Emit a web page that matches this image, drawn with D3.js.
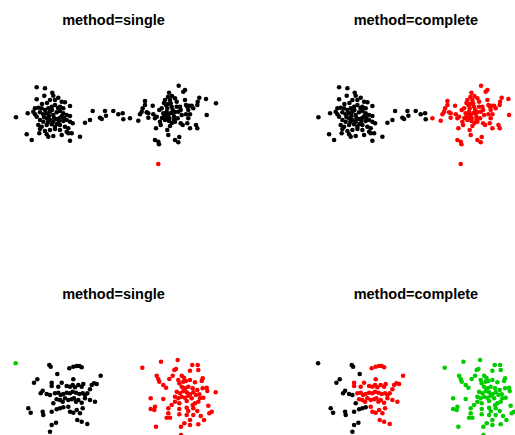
<!DOCTYPE html>
<html><head><meta charset="utf-8">
<script src="https://cdn.jsdelivr.net/npm/d3@7"></script>
<style>html,body{margin:0;padding:0;background:#fff;overflow:hidden}</style>
</head><body>
<script>
// ---- data (units) ----
const titles = ["method=single", "method=complete", "method=single", "method=complete"];
const palette = ["#000000", "#FF0000", "#00CD00"];

// upper data set
const topLeftGroup = [
[36.7,87.3],[45,88.3],[52.3,92.7],[53.3,95.7],[44.3,95.7],[36.7,99.3],[50,100],[55,100],[58.3,97.7],[61.7,101.7],[65,102.3],[70,106],[16,117.3],[27.7,113.3],[33.3,111.7],[35,108.3],[38.3,107.7],[41.7,108.3],[45,110],[48.3,108.3],[51.7,106.7],[55,105],[60,106.7],[63.3,108.3],[35,114.3],[36.7,116.7],[40,112.3],[43.3,114.3],[46.7,113.3],[50,111.7],[53.3,115],[56.7,112.3],[60,111],[63.3,113.3],[66.7,115],[70,116],[40,120],[43.3,121.7],[46.7,118.3],[50,120],[53.3,121.7],[56.7,119],[60,117.7],[63.3,121],[66.7,120],[70,121.7],[72.7,123.3],[38.3,125],[41.7,126.7],[46.7,125],[51.7,124.3],[55,126.7],[60,125],[65,126.7],[68.3,128.3],[40,129],[45,131],[50,130],[55,129],[60,130],[66.7,131.7],[71.7,133.3],[26.7,134.3],[31.7,140],[39.3,133.3],[46.7,134.3],[48.3,136.7],[53.3,136],[61.7,135],[68.3,133.3],[70,140.7],[80,136.7],
[42,104],[47,103],[52,110],[58,108],[44,117],[49,116],[54,118],[59,121],[62,116],[48,122],[57,124],[64,118]
];
const topBridge = [
[85,122.7],[90,120],[92.7,111],[100,117.7],[101.7,119],[105,111],[106,115.7],[113.3,111],[118.3,114.3],[122.7,113.3],[123.3,119.3]
];
const topRightGroup = [
[130,118.3],[138.3,120.7],[140,114.3],[142.7,108.3],[145,101],[146.7,112.3],[148.3,117.7],[152.7,105.7],[153.3,114.3],[155,118.3],[156.7,116.7],[156,128.3],[159.3,110],[160,121.7],[160.7,125],[161.7,108.3],[163.3,113.3],[164,116.7],[165,120],[166,105],[167.3,108.3],[166.7,111.7],[168.3,115],[169.3,118.3],[167.3,130],[168.3,135],[169,92.7],[170,100],[170.7,103.3],[171.7,106.7],[172.7,110],[173.3,113.3],[174,116.7],[175,121.7],[175,98.3],[176.7,101.7],[176.7,106.7],[178.3,111.7],[177.7,118.3],[178.7,85.7],[180,106.7],[180.7,110],[181.7,115],[180.7,123.3],[182.7,125],[183.3,91.7],[185,90],[185,100],[186,105],[187.3,106.7],[189.3,105.7],[188.3,110],[186,114.3],[188.3,118.3],[187.3,123.3],[190,128.3],[190,114.3],[193.3,108.3],[191.7,105.7],[196,125],[197.3,128.3],[197.3,105],[197.7,101.7],[199.3,97.7],[206,99],[216,103.3],[206.7,115],[155,140],[158.3,141.7],[159,144.3],[175,140],[178.3,142.3],[179.3,137],
[165,100],[168,97],[172,96],[164,103],[168,104],[171,113],[169,121],[172,123],[166,118],[170,126],[174,120],[162,118],[175,112],[167,114],[145,105],[141.7,111.7],[148.3,113.3]
];
const topOutlier = [[158.3,164]];

// cluster label of each group, per method (upper panels)
const topSingleLabels   = {left: 1, bridge: 1, right: 1, outlier: 2};
const topCompleteLabels = {left: 1, bridge: 1, right: 2, outlier: 2};

// lower data set
const botOutlier = [[15.7,363.3]];
const botLeftEdge = [
[49.3,365],[50.7,366.7],[57.3,374],[37.3,379.3],[34,382.7],[42.7,390.7],[40.7,393.3],[46.7,394],[50,395],[53.3,403.3],[28.3,408.3],[30.7,412.7],[42.7,411.7],[43.3,415],[51.7,411.7],[56.7,409.3],[60,408.3],[63.3,407.3],[51.7,425],[56,422.7],[50,431.7]
];
const botLeftCore = [
[69.3,368.3],[73.3,366.7],[76.7,366],[79.3,366],[81.7,367.3],[73.3,379.3],[100.7,375.7],[51.7,382.7],[51.7,386],[58.3,386.7],[61.7,382.7],[66.7,386],[70,386.7],[72.7,385],[75,387.3],[78.3,385],[81.7,386.7],[83.3,384],[91.7,385],[94,383.3],[96.7,384],[55,393.3],[58.3,392.7],[60.7,395],[63.3,394],[66.7,392.7],[70,393.3],[72.7,391.7],[76,392.7],[79.3,394],[82.7,393.3],[85,395],[87.3,393.3],[90,389.3],[56.7,399.3],[60,400],[62.7,401.7],[65,398.3],[68.3,400],[71.7,399.3],[74,398.3],[76,401.7],[78.3,400],[81.7,402.7],[85,398.3],[90,400],[95,401.7],[68.3,406.7],[70,411.7],[73.3,412.7],[76.7,410],[80,413.3],[82.7,408.3],[77.3,420],[81.7,421.7],[87.3,424]
];
const botRightGroup = [
[142.3,367.7],[161,361.7],[177.7,360],[192.3,365],[197.7,365],[174.3,370],[176,369],[190,370.7],[198.3,370],[156.7,375.7],[158.3,379],[159.3,381.7],[169.3,379],[172.7,375.7],[178.3,380],[181.7,375.7],[184,377.7],[179.3,383.3],[183.3,381.7],[186,381],[190,380],[195,382.3],[201.7,381],[202.7,378.3],[163.3,385],[166,387.7],[181.7,386.7],[185,388.3],[188.3,386.7],[192.7,388.3],[197.3,390],[202.7,388.3],[206.7,387.7],[207.3,391],[215.7,392.3],[176.7,391.7],[180,393.3],[183.3,391],[186.7,392.3],[190,394.3],[193.3,392.3],[196,395],[199.3,394.3],[203.3,397.7],[175,396.7],[178.3,398.3],[181.7,396.7],[185,397.7],[188.3,395.7],[191.7,398.3],[200,398.3],[150.7,398.3],[163.3,399],[175,401.7],[179.3,403.3],[186.7,401],[192.7,405],[195,403.3],[198.3,401.7],[208.3,405.7],[171.7,405],[168.3,408.3],[150.7,409],[155,406.7],[154.3,410],[179.3,409],[186.7,407.7],[188.3,411],[193.3,408.3],[197.3,411],[168.3,413.3],[179.3,414.3],[186.7,415],[193.3,415],[200.7,416],[209.3,413.3],[211.7,411.7],[166.7,417.7],[170,417.7],[190,420],[204,420],[184.3,423.3],[190,425],[198.3,424.3],[156,426.7],[181,426.7],[181,435]
];
const botSingleLabels   = {outlier: 3, leftEdge: 1, leftCore: 1, right: 2};
const botCompleteLabels = {outlier: 1, leftEdge: 1, leftCore: 2, right: 3};

// ---- assemble point tables ----
const topGroups = {left: topLeftGroup, bridge: topBridge, right: topRightGroup, outlier: topOutlier};
const botGroups = {outlier: botOutlier, leftEdge: botLeftEdge, leftCore: botLeftCore, right: botRightGroup};
function table(groups, labels) {
  const out = [];
  Object.keys(groups).forEach(k => groups[k].forEach(p => out.push({x: p[0], y: p[1], c: labels[k]})));
  return out;
}

// ---- drawing ----
const W = 515, H = 435;
const svg = d3.select("body").append("svg").attr("width", W).attr("height", H);

const panels = [
  {data: table(topGroups, topSingleLabels),   ox: 0,     title: titles[0], ty: 24.5},
  {data: table(topGroups, topCompleteLabels), ox: 302.4, title: titles[1], ty: 24.5},
  {data: table(botGroups, botSingleLabels),   ox: 0,     title: titles[2], ty: 298.5},
  {data: table(botGroups, botCompleteLabels), ox: 302.4, title: titles[3], ty: 298.5}
];

panels.forEach(p => {
  const x = d3.scaleLinear().domain([0, 250]).range([p.ox, p.ox + 250]);
  const y = d3.scaleLinear().domain([0, 435]).range([0, 435]);
  const g = svg.append("g");
  g.selectAll("circle").data(p.data).join("circle")
    .attr("cx", d => x(d.x))
    .attr("cy", d => y(d.y))
    .attr("r", 2.3)
    .attr("fill", d => palette[d.c - 1]);
  g.append("text")
    .attr("x", x(113.5))
    .attr("y", p.ty)
    .attr("text-anchor", "middle")
    .style("font-family", "'Liberation Sans', Arial, sans-serif")
    .style("font-weight", "bold")
    .style("font-size", "14.5px")
    .text(p.title);
});
</script>
</body></html>
